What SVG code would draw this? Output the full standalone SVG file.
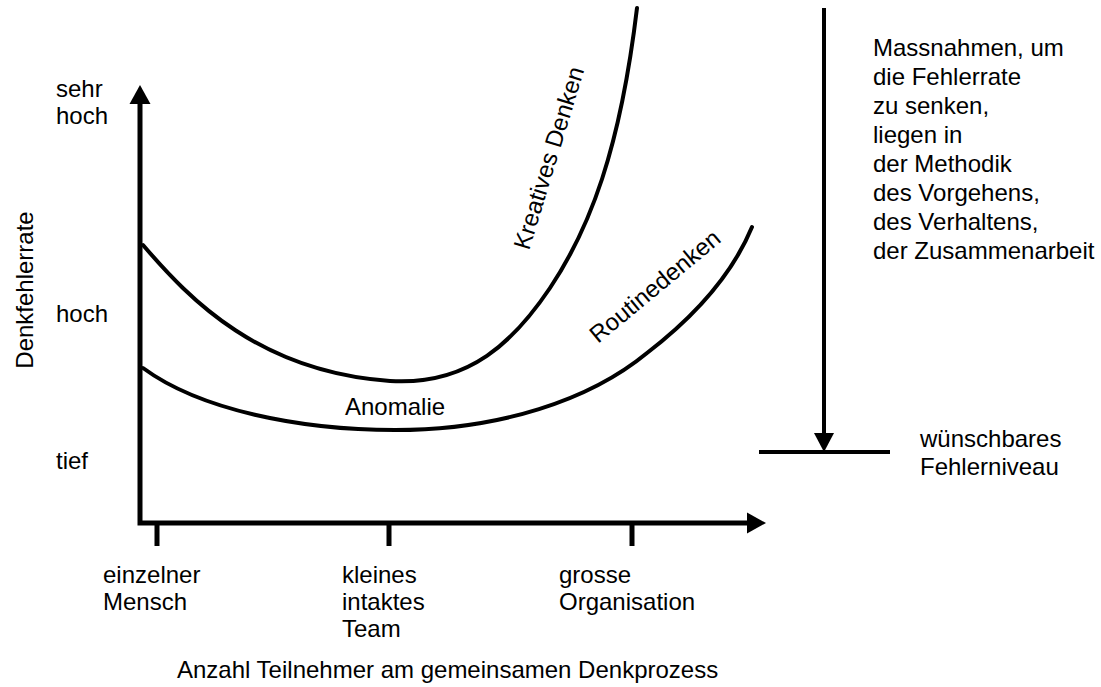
<svg xmlns="http://www.w3.org/2000/svg" width="1101" height="687" viewBox="0 0 1101 687">
<style>
text{font-family:"Liberation Sans",Arial,sans-serif;font-size:24px;fill:#000}
.ax{stroke:#000;stroke-width:5;fill:none}
.cv{stroke:#000;stroke-width:4;fill:none;stroke-linecap:round}
.ah{fill:#000}
</style>
<rect width="1101" height="687" fill="#fff"/>
<g id="connectors">
<path class="ax" d="M140,100 V523 H752"/>
<polygon class="ah" points="140,85 129.5,104 150.5,104"/>
<polygon class="ah" points="766,523 747,512.5 747,533.5"/>
<path class="ax" d="M157,523 V546 M389,523 V546 M632,523 V546"/>
<path class="cv" id="kreativ" d="M143,245 C190,300 260,372 390,381 C470,386 515,340 550,288 C590,228 620,150 637,8"/>
<path class="cv" id="routine" d="M143,368 C200,410 300,430 395,430 C500,430 590,400 647,353 C690,320 730,280 752,227"/>
<line x1="824" y1="8" x2="824" y2="436" stroke="#000" stroke-width="4"/>
<polygon class="ah" points="824,452 814,433 834,433"/>
<line x1="759" y1="452" x2="890" y2="452" stroke="#000" stroke-width="4"/>
</g>
<g id="yaxis-labels">
<text x="56" y="97">sehr</text>
<text x="56" y="124">hoch</text>
<text x="56" y="322">hoch</text>
<text x="56" y="469">tief</text>
<text transform="translate(33,290) rotate(-90)" text-anchor="middle">Denkfehlerrate</text>
</g>
<g id="xaxis-labels">
<text x="103" y="583">einzelner</text>
<text x="103" y="610">Mensch</text>
<text x="342" y="583">kleines</text>
<text x="342" y="610">intaktes</text>
<text x="342" y="637">Team</text>
<text x="559" y="583">grosse</text>
<text x="559" y="610">Organisation</text>
<text x="177" y="678">Anzahl Teilnehmer am gemeinsamen Denkprozess</text>
</g>
<g id="curve-labels">
<text x="345" y="415">Anomalie</text>
<text transform="translate(529,251) rotate(-73)">Kreatives Denken</text>
<text transform="translate(598,344) rotate(-39.6)">Routinedenken</text>
</g>
<g id="measures">
<text x="873" y="56">Massnahmen, um</text>
<text x="873" y="85">die Fehlerrate</text>
<text x="873" y="114">zu senken,</text>
<text x="873" y="143">liegen in</text>
<text x="873" y="172">der Methodik</text>
<text x="873" y="201">des Vorgehens,</text>
<text x="873" y="230">des Verhaltens,</text>
<text x="873" y="259">der Zusammenarbeit</text>
</g>
<g id="target">
<text x="920" y="447">wünschbares</text>
<text x="920" y="475">Fehlerniveau</text>
</g>
</svg>
